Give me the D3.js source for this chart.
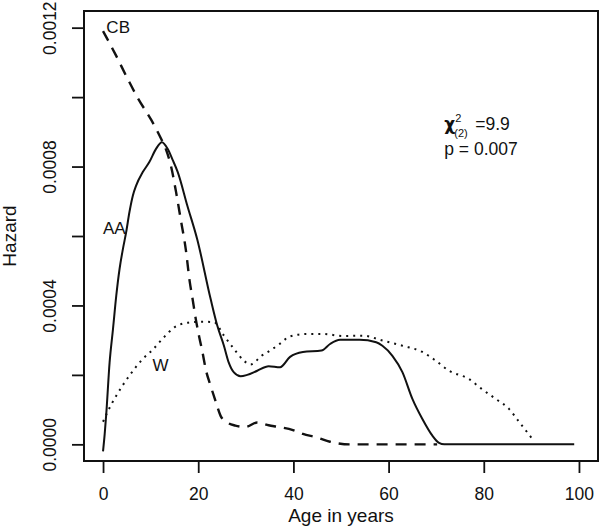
<!DOCTYPE html>
<html>
<head>
<meta charset="utf-8">
<script src="https://cdn.jsdelivr.net/npm/d3@7"></script>
<style>
  body { margin: 0; background: #fff; }
  svg { font-family: "Liberation Sans", Arial, sans-serif; }
</style>
</head>
<body>
<svg id="chart" width="600" height="528"></svg>
<script>
// Hazard curves: age (years) and hazard
const cbAge = [0, 2.8, 4.9, 7.4, 10.1, 12.2, 13.2, 14.3, 15.3, 16.3, 17.4, 18.2, 18.8, 19.5, 20.2, 20.9, 21.6, 22.6, 23.7, 24.7, 26.1, 27.8, 29.9, 32.4, 34.8, 36.9, 39.9, 42, 44.9, 47.7, 51.8, 60, 70.2];
const cbHaz = [0.00119, 0.001118, 0.00106, 0.000995, 0.000935, 0.00088, 0.00085, 0.0008, 0.00073, 0.00065, 0.00056, 0.00047, 0.00042, 0.00036, 0.00031, 0.000265, 0.000215, 0.000169, 0.000122, 0.000082, 0.000063, 0.000054, 0.00005, 0.000063, 0.000055, 0.00005, 0.000041, 0.00003, 0.00002, 0.0000075, 0, 0, 0];

const aaAge = [0, 0.35, 0.69, 1.38, 2.09, 2.78, 3.47, 4.18, 4.86, 5.55, 6.26, 6.95, 8.35, 9.73, 11.13, 12.38, 13.57, 14.6, 15.7, 17.7, 19.8, 22.6, 24.0, 25.4, 26.4, 27.5, 28.9, 30.3, 32.4, 34.8, 37.2, 39.3, 42.0, 45.9, 47.7, 49.8, 53.9, 57.4, 58.7, 60.8, 62.9, 65.0, 67.1, 69.2, 70.6, 71.7, 99];
const aaHaz = [-0.00002, 0.00003, 0.00009, 0.000236, 0.000332, 0.000428, 0.000505, 0.000563, 0.000611, 0.000669, 0.000716, 0.000745, 0.000784, 0.000813, 0.000851, 0.00087, 0.000851, 0.00082, 0.000784, 0.000688, 0.00059, 0.000419, 0.000342, 0.000284, 0.000236, 0.000207, 0.000196, 0.0002, 0.000212, 0.000225, 0.000222, 0.000252, 0.000266, 0.00027, 0.000289, 0.000301, 0.000301, 0.000294, 0.000284, 0.000255, 0.000208, 0.000131, 0.000073, 0.000025, 0.000004, 0, 0];

const wAge = [0, 1.0, 2.78, 5.55, 8.35, 10.4, 12.5, 15.0, 17.7, 20.5, 23.3, 25.4, 27.5, 29.5, 31.0, 33.3, 35.1, 37.2, 39.3, 42.8, 46.2, 50.4, 54.6, 58.7, 62.9, 67.1, 69.9, 72.7, 76.9, 79.6, 82.5, 85.3, 87.4, 90.3];
const wHaz = [0.000065, 0.000095, 0.00014, 0.000198, 0.000246, 0.000272, 0.000304, 0.000337, 0.00035, 0.000353, 0.000352, 0.000313, 0.000275, 0.000242, 0.00023, 0.000255, 0.00027, 0.00029, 0.000311, 0.000318, 0.000318, 0.000312, 0.000313, 0.000299, 0.000284, 0.000266, 0.000241, 0.000212, 0.000188, 0.000159, 0.000131, 0.000102, 0.000065, 0.000014];

// Tick values and labels
const xTicks = [0, 20, 40, 60, 80, 100];
const yTicks = [0, 0.0002, 0.0004, 0.0006, 0.0008, 0.001, 0.0012];
const yTickLabels = ["0.0000", "", "0.0004", "", "0.0008", "", "0.0012"];

// Curve labels (anchored in data units) and test result
const curveLabels = ["CB", "AA", "W"];
const labelAge = [0.7, 0, 10.4];
const labelHaz = [0.001185, 0.000606, 0.000211];
const chiValue = "9.9";
const pValue = "0.007";

const svg = d3.select("#chart");
const margin = {top: 11, right: 2, bottom: 67, left: 84};
const width = +svg.attr("width") - margin.left - margin.right;
const height = +svg.attr("height") - margin.top - margin.bottom;

const chart = svg.append("g").attr("transform", `translate(${margin.left},${margin.top})`);

// R style: 4% padding on each side of the data range
const x = d3.scaleLinear().domain([-4, 104]).range([0, width]);
const y = d3.scaleLinear().domain([-0.000048, 0.001248]).range([height, 0]);

// Axes
const xAxis = d3.axisBottom(x).tickValues(xTicks).tickSize(12).tickFormat(d3.format("d"));
const yAxis = d3.axisLeft(y).tickValues(yTicks).tickSize(12).tickFormat((d, i) => yTickLabels[i]);

const gx = chart.append("g")
    .attr("transform", `translate(0,${height})`)
    .call(xAxis);
gx.select(".domain").remove();
gx.selectAll("line").attr("stroke", "#111").attr("stroke-width", 1.8);
gx.selectAll("text")
    .attr("y", 39)
    .attr("dy", 0)
    .attr("fill", "#111")
    .style("font-size", "17.5px");

const gy = chart.append("g").call(yAxis);
gy.select(".domain").remove();
gy.selectAll("line").attr("stroke", "#111").attr("stroke-width", 1.8);
gy.selectAll("text")
    .attr("x", 0)
    .attr("dy", 0)
    .attr("transform", "translate(-28,0) rotate(-90)")
    .attr("text-anchor", "middle")
    .attr("fill", "#111")
    .style("font-size", "17.5px");

// Plot box
chart.append("rect")
    .attr("width", width)
    .attr("height", height)
    .attr("fill", "none")
    .attr("stroke", "#111")
    .attr("stroke-width", 2);

// Axis titles
svg.append("text")
    .attr("x", margin.left + width / 2)
    .attr("y", 522)
    .attr("text-anchor", "middle")
    .attr("fill", "#111")
    .style("font-size", "19px")
    .text("Age in years");

svg.append("text")
    .attr("transform", `translate(16,${margin.top + y(0.0006)}) rotate(-90)`)
    .attr("text-anchor", "middle")
    .attr("fill", "#111")
    .style("font-size", "19px")
    .text("Hazard");

// Lines
const line = d3.line()
    .x(d => x(d[0]))
    .y(d => y(d[1]))
    .curve(d3.curveMonotoneX);

const series = [
    {age: cbAge, haz: cbHaz, dash: "11,8", width: 2.4},
    {age: aaAge, haz: aaHaz, dash: null, width: 2},
    {age: wAge, haz: wHaz, dash: "2,5", width: 2}
];

series.forEach(s => {
    chart.append("path")
        .datum(s.age.map((a, i) => [a, s.haz[i]]))
        .attr("d", line)
        .attr("fill", "none")
        .attr("stroke", "#111")
        .attr("stroke-width", s.width)
        .attr("stroke-dasharray", s.dash);
});

// Curve labels
chart.selectAll(".curve-label")
    .data(curveLabels)
    .enter().append("text")
    .attr("class", "curve-label")
    .attr("x", (d, i) => x(labelAge[i]))
    .attr("y", (d, i) => y(labelHaz[i]))
    .attr("fill", "#111")
    .style("font-size", "17px")
    .text(d => d);

// Chi-square annotation
const ax = x(71.7), ay = y(0.000905);
const note = chart.append("g").attr("transform", `translate(${ax},${ay})`);
note.append("text")
    .attr("x", 0).attr("y", 0)
    .style("font-family", "'DejaVu Sans', sans-serif")
    .style("font-weight", "bold")
    .style("font-size", "17px")
    .attr("fill", "#111")
    .text("\u03c7");
note.append("text")
    .attr("x", 11).attr("y", -8)
    .style("font-size", "11px")
    .attr("fill", "#111")
    .text("2");
note.append("text")
    .attr("x", 10).attr("y", 7)
    .style("font-size", "11px")
    .attr("fill", "#111")
    .text("(2)");
note.append("text")
    .attr("x", 31).attr("y", 0)
    .style("font-size", "17.5px")
    .attr("fill", "#111")
    .text("=" + chiValue);
note.append("text")
    .attr("x", 0).attr("y", 25)
    .style("font-size", "17.5px")
    .attr("fill", "#111")
    .text("p = " + pValue);
</script>
</body>
</html>
